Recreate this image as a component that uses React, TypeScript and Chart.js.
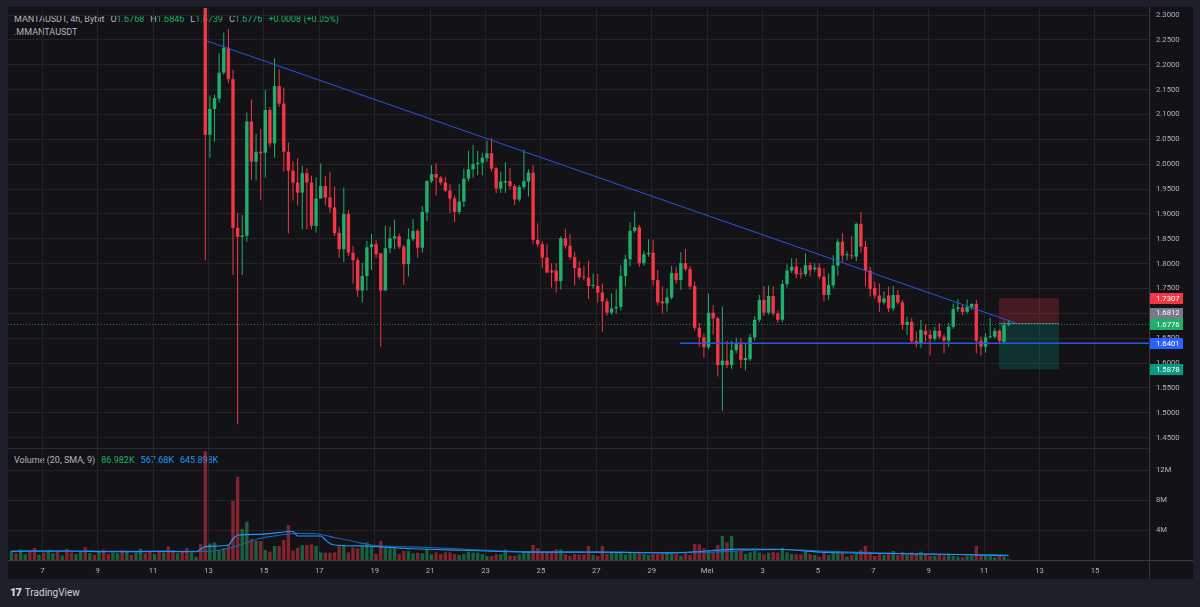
import React, { useEffect, useRef } from "react";
import { Chart, registerables } from "chart.js";
Chart.register(...registerables);

// ---------------- data ----------------
const opens = [
  2.42, 2.059, 2.111, 2.132, 2.184, 2.234, 2.171, 1.872, 1.854, 1.856,
  2.086, 2.005, 2.025, 2.023, 2.109, 2.042, 2.157, 2.122, 2.025, 1.987,
  1.963, 1.943, 1.982, 1.963, 1.876, 1.931, 1.956, 1.933, 1.913, 1.862,
  1.829, 1.9, 1.822, 1.807, 1.746, 1.775, 1.833, 1.839, 1.821, 1.746,
  1.831, 1.851, 1.855, 1.834, 1.799, 1.849, 1.866, 1.832, 1.903, 1.966,
  1.98, 1.973, 1.963, 1.947, 1.931, 1.904, 1.925, 1.971, 1.99, 2.0,
  2.003, 2.012, 2.022, 1.992, 1.951, 1.963, 1.966, 1.956, 1.929, 1.954,
  1.965, 1.983, 1.848, 1.839, 1.812, 1.786, 1.786, 1.765, 1.851, 1.836,
  1.813, 1.791, 1.774, 1.772, 1.755, 1.755, 1.742, 1.724, 1.7015, 1.71,
  1.713, 1.775, 1.809, 1.866, 1.873, 1.801, 1.819, 1.822, 1.767, 1.724,
  1.72, 1.732, 1.781, 1.767, 1.801, 1.789, 1.755, 1.671, 1.652, 1.632,
  1.7015, 1.69, 1.596, 1.605, 1.596, 1.626, 1.638, 1.606, 1.608, 1.652,
  1.687, 1.727, 1.7015, 1.735, 1.7, 1.687, 1.759, 1.786, 1.794, 1.78,
  1.779, 1.797, 1.789, 1.792, 1.774, 1.737, 1.756, 1.796, 1.844, 1.817,
  1.817, 1.814, 1.88, 1.834, 1.786, 1.751, 1.736, 1.722, 1.736, 1.71,
  1.737, 1.722, 1.677, 1.683, 1.644, 1.64, 1.665, 1.657, 1.649, 1.665,
  1.653, 1.645, 1.673, 1.709, 1.712, 1.703, 1.712, 1.719, 1.645, 1.633,
  1.652, 1.653, 1.665, 1.643, 1.6768,
];
const highs = [
  2.47, 2.138, 2.14, 2.223, 2.265, 2.272, 2.19, 1.902, 1.898, 2.104,
  2.13, 2.061, 2.071, 2.149, 2.115, 2.213, 2.191, 2.154, 2.044, 2.006,
  2.012, 1.997, 1.992, 1.977, 1.973, 2.002, 1.977, 1.985, 1.955, 1.874,
  1.953, 1.908, 1.835, 1.812, 1.802, 1.846, 1.86, 1.847, 1.821, 1.876,
  1.874, 1.889, 1.86, 1.838, 1.871, 1.89, 1.87, 1.916, 1.968, 1.998,
  2.002, 1.977, 1.975, 1.96, 1.937, 1.96, 1.991, 2.027, 2.039, 2.027,
  2.023, 2.047, 2.052, 1.995, 1.985, 2.004, 1.992, 1.96, 1.958, 2.029,
  1.99, 1.998, 1.881, 1.845, 1.839, 1.801, 1.801, 1.855, 1.87, 1.859,
  1.824, 1.805, 1.795, 1.806, 1.78, 1.779, 1.76, 1.73, 1.74, 1.748,
  1.797, 1.818, 1.883, 1.905, 1.878, 1.826, 1.849, 1.848, 1.787, 1.754,
  1.75, 1.796, 1.794, 1.823, 1.83, 1.795, 1.764, 1.681, 1.66, 1.74,
  1.717, 1.693, 1.714, 1.645, 1.645, 1.651, 1.65, 1.64, 1.659, 1.694,
  1.737, 1.755, 1.756, 1.754, 1.706, 1.767, 1.799, 1.811, 1.811, 1.792,
  1.821, 1.803, 1.801, 1.801, 1.791, 1.78, 1.817, 1.849, 1.861, 1.825,
  1.856, 1.883, 1.904, 1.846, 1.794, 1.764, 1.76, 1.744, 1.754, 1.755,
  1.747, 1.727, 1.693, 1.69, 1.663, 1.687, 1.677, 1.667, 1.673, 1.68,
  1.658, 1.681, 1.72, 1.729, 1.719, 1.728, 1.721, 1.727, 1.654, 1.66,
  1.69, 1.67, 1.668, 1.683, 1.6846,
];
const lows = [
  1.807, 2.013, 2.045, 2.124, 2.18, 2.163, 1.777, 1.477, 1.777, 1.844,
  1.968, 1.967, 1.928, 1.973, 2.035, 2.013, 2.115, 1.985, 1.861, 1.927,
  1.917, 1.869, 1.869, 1.869, 1.862, 1.931, 1.917, 1.902, 1.855, 1.812,
  1.803, 1.815, 1.76, 1.733, 1.722, 1.746, 1.787, 1.811, 1.633, 1.746,
  1.821, 1.829, 1.83, 1.757, 1.774, 1.845, 1.812, 1.822, 1.886, 1.962,
  1.937, 1.958, 1.944, 1.902, 1.884, 1.899, 1.914, 1.965, 1.973, 1.978,
  1.978, 2.005, 1.985, 1.942, 1.942, 1.942, 1.949, 1.918, 1.925, 1.95,
  1.935, 1.839, 1.833, 1.791, 1.781, 1.752, 1.742, 1.748, 1.83, 1.808,
  1.756, 1.768, 1.766, 1.729, 1.75, 1.722, 1.663, 1.695, 1.698, 1.7,
  1.706, 1.754, 1.795, 1.862, 1.794, 1.796, 1.814, 1.756, 1.716, 1.7,
  1.704, 1.728, 1.76, 1.747, 1.785, 1.748, 1.665, 1.633, 1.611, 1.628,
  1.657, 1.573, 1.504, 1.59, 1.588, 1.62, 1.59, 1.585, 1.604, 1.645,
  1.682, 1.695, 1.698, 1.695, 1.681, 1.683, 1.752, 1.781, 1.771, 1.77,
  1.774, 1.774, 1.784, 1.769, 1.724, 1.727, 1.75, 1.776, 1.804, 1.807,
  1.809, 1.805, 1.822, 1.754, 1.734, 1.73, 1.703, 1.718, 1.703, 1.705,
  1.718, 1.667, 1.657, 1.64, 1.632, 1.63, 1.643, 1.616, 1.645, 1.648,
  1.62, 1.633, 1.669, 1.703, 1.697, 1.7, 1.707, 1.62, 1.615, 1.621,
  1.65, 1.65, 1.64, 1.638, 1.6739,
];
const closes = [
  2.059, 2.111, 2.133, 2.184, 2.234, 2.171, 1.872, 1.854, 1.857, 2.086,
  2.005, 2.025, 2.022, 2.109, 2.042, 2.157, 2.122, 2.025, 1.987, 1.963,
  1.943, 1.982, 1.963, 1.876, 1.931, 1.956, 1.933, 1.913, 1.861, 1.829,
  1.9, 1.822, 1.807, 1.746, 1.775, 1.833, 1.839, 1.819, 1.746, 1.831,
  1.851, 1.855, 1.834, 1.799, 1.849, 1.866, 1.832, 1.904, 1.966, 1.98,
  1.973, 1.963, 1.947, 1.931, 1.904, 1.925, 1.971, 1.99, 2.0, 2.003,
  2.013, 2.022, 1.991, 1.951, 1.965, 1.966, 1.956, 1.929, 1.954, 1.966,
  1.983, 1.848, 1.839, 1.812, 1.782, 1.782, 1.765, 1.851, 1.836, 1.813,
  1.791, 1.773, 1.772, 1.755, 1.757, 1.742, 1.724, 1.7015, 1.71, 1.713,
  1.775, 1.809, 1.866, 1.873, 1.801, 1.819, 1.822, 1.767, 1.722, 1.72,
  1.732, 1.781, 1.767, 1.801, 1.789, 1.754, 1.671, 1.652, 1.632, 1.7015,
  1.69, 1.596, 1.605, 1.596, 1.626, 1.638, 1.606, 1.61, 1.652, 1.687,
  1.727, 1.7015, 1.735, 1.7, 1.687, 1.759, 1.786, 1.794, 1.779, 1.779,
  1.797, 1.787, 1.792, 1.774, 1.737, 1.757, 1.796, 1.844, 1.816, 1.819,
  1.815, 1.88, 1.834, 1.786, 1.749, 1.736, 1.722, 1.73, 1.71, 1.737,
  1.722, 1.677, 1.683, 1.644, 1.64, 1.667, 1.657, 1.649, 1.665, 1.653,
  1.645, 1.673, 1.709, 1.712, 1.703, 1.713, 1.719, 1.645, 1.633, 1.652,
  1.653, 1.665, 1.645, 1.677, 1.6776,
];
// volume in millions, one per candle above
const volumes = [
  14.5, 2.2, 2.36, 1.33, 1.56, 2.0, 7.87, 11.1, 4.13, 5.1,
  2.8, 2.53, 2.53, 1.33, 1.1, 1.87, 1.87, 2.67, 4.67, 1.24,
  1.64, 2.0, 2.0, 2.1, 1.87, 1.02, 0.98, 0.98, 1.02, 2.0,
  2.0, 1.02, 1.69, 1.56, 1.91, 2.36, 1.78, 0.8, 2.53, 1.64,
  1.56, 1.56, 0.8, 1.2, 1.2, 0.89, 0.98, 0.89, 1.47, 0.76,
  1.02, 0.8, 1.02, 1.02, 0.8, 0.67, 0.8, 1.1, 0.98, 0.98,
  0.8, 0.53, 0.53, 0.76, 0.76, 1.42, 0.58, 0.58, 0.76, 1.1,
  1.02, 2.0, 1.56, 1.2, 1.1, 1.2, 1.42, 1.42, 0.8, 0.53,
  0.8, 0.76, 0.76, 1.87, 0.67, 0.53, 1.87, 0.8, 1.02, 1.02,
  1.1, 0.76, 1.02, 1.02, 1.02, 0.8, 0.67, 0.8, 0.8, 0.98,
  1.02, 1.1, 0.8, 0.58, 0.89, 0.67, 2.13, 2.09, 1.56, 1.33,
  0.98, 2.0, 3.2, 2.36, 3.2, 1.2, 1.24, 0.8, 1.02, 1.2,
  0.98, 0.76, 0.98, 1.1, 0.98, 1.64, 1.02, 0.8, 0.76, 0.76,
  1.2, 0.8, 0.67, 0.44, 0.98, 0.67, 1.2, 1.2, 0.89, 0.44,
  0.67, 0.8, 1.33, 1.87, 1.1, 0.53, 0.8, 0.67, 0.89, 1.2,
  0.67, 1.1, 0.67, 1.02, 0.76, 1.1, 0.8, 0.53, 0.53, 0.67,
  0.58, 0.8, 0.53, 0.44, 0.36, 0.53, 0.58, 1.87, 0.8, 0.67,
  0.58, 0.36, 0.67, 0.44, 0.087,
];
// the 42 candles before the first visible one (their prices are above the visible range)
const preVolumes = [
  1.2, 0.9, 1.4, 0.8, 1.1, 1.6, 0.7, 1.0, 1.3, 0.9,
  1.2, 0.6, 1.5, 1.0, 0.8, 1.1, 1.7, 0.9, 0.7, 1.2,
  1.4, 0.8, 1.0, 0.9, 1.3, 1.1, 0.7, 1.0, 1.5, 0.9,
  1.2, 0.8, 1.1, 1.0, 1.8, 1.3, 0.9, 1.2, 1.6, 1.0,
  0.44, 2.1,
];
const preVolumeUp = [
  true, false, true, true, false, false, true, false, true, true,
  false, true, false, false, true, true, false, true, false, true,
  false, false, true, true, false, true, false, true, true, false,
  false, true, false, true, false, false, true, false, false, true,
  true, false,
];
// Volume MA(20) and its SMA(9) smoothing at these candle indices
const maIndex = [-42, -30, -20, -10, -2, 0, 5, 6, 7, 12, 19, 20, 25, 26, 27, 28, 35, 45, 56, 70, 85, 100, 106, 112, 115, 125, 135, 145, 155, 165, 174];
const maValues = [1.15, 1.2, 1.1, 1.15, 1.1, 1.78, 2.0, 2.8, 3.3, 3.42, 3.8, 3.2, 3.2, 2.7, 2.2, 2.0, 1.85, 1.5, 1.3, 1.05, 1.05, 0.95, 1.1, 1.35, 1.45, 1.4, 1.0, 0.9, 0.8, 0.7, 0.57];
const smoothIndex = [-42, -10, 0, 4, 8, 12, 16, 20, 24, 28, 32, 36, 45, 56, 70, 85, 100, 110, 118, 125, 135, 145, 155, 165, 174];
const smoothValues = [1.2, 1.15, 1.15, 1.4, 2.1, 2.9, 3.3, 3.55, 3.5, 3.0, 2.5, 2.0, 1.75, 1.45, 1.1, 1.05, 0.97, 1.05, 1.3, 1.4, 1.15, 0.95, 0.82, 0.72, 0.646];

const priceTicks = [2.3, 2.25, 2.2, 2.15, 2.1, 2.05, 2.0, 1.95, 1.9, 1.85, 1.8, 1.75, 1.7, 1.65, 1.6, 1.55, 1.5, 1.45];
const volumeTicks = [4, 8, 12];
const dateTickDays = [-6, -4, -2, 0, 2, 4, 6, 8, 10, 12, 14, 16, 18, 20, 22, 24, 26, 28, 30, 32];
const dateTickLabels = ["7", "9", "11", "13", "15", "17", "19", "21", "23", "25", "27", "29", "Mei", "3", "5", "7", "9", "11", "13", "15"];

// drawings (candle index, price)
const trendIdx = [0.37, 175.8];
const trendPrice = [2.2477, 1.6797];
const supportIdx = [102.8, 205];
const supportPrice = [1.6401, 1.6401];
const lastPrice = 1.6776;
const positionIdx = [171.9, 184.9];
const stopPrice = 1.7307;
const entryPrice = 1.6812;
const targetPrice = 1.5878;
const axisMarkValues = [1.7307, 1.6812, 1.6776, 1.6401, 1.5878];

const headerOHLC = [["O", "1.6768"], ["H", "1.6846"], ["L", "1.6739"], ["C", "1.6776"]];
const headerChange = "+0.0008 (+0.05%)";
const volumeLegendValues = ["86.982K", "567.68K", "645.898K"];

// ---------------- styles ----------------
const UP = "#1fae6b";
const DOWN = "#f23645";
const UP_VOL = "rgba(31,174,107,0.5)";
const DOWN_VOL = "rgba(242,54,69,0.5)";
const GRID = "#232329";
const TEXT = "#b2b5be";
const LINE_BLUE = "#2b56e0";
const FONT = "Roboto, 'Noto Sans', sans-serif";
const AXIS_W = 44;
const X_MIN = -42.73;
const X_MAX = 204.4;
const APR13_POS = 0.7;
const CANDLES_PER_DAY = 6;
const P_MIN = 1.4293;
const P_MAX = 2.3141;
const V_MAX = 14.8;
const axisMarkColors = ["#f23645", "#787b86", UP, "#2962ff", "#089981"];
const ANCHOR_MARK = 2;

function dateTickValues() {
  return dateTickDays.map((d) => ({ value: APR13_POS + d * CANDLES_PER_DAY }));
}

export default function App() {
  const priceRef = useRef<HTMLCanvasElement>(null);
  const volRef = useRef<HTMLCanvasElement>(null);

  useEffect(() => {
    const idx = opens.map((_, i) => i);
    const up = idx.map((i) => closes[i] >= opens[i]);
    const bodies = idx.map((i) => ({ x: i, y: [Math.min(opens[i], closes[i]), Math.max(opens[i], closes[i])] }));
    const wicks = idx.map((i) => ({ x: i, y: [lows[i], highs[i]] }));
    const candleColors = up.map((u) => (u ? UP : DOWN));

    const overlayPlugin: any = {
      id: "overlays",
      beforeDatasetsDraw(chart: any) {
        const { ctx, chartArea, scales } = chart;
        const x = scales.x, y = scales.y;
        ctx.save();
        ctx.beginPath();
        ctx.rect(chartArea.left, chartArea.top, chartArea.right - chartArea.left, chartArea.bottom - chartArea.top);
        ctx.clip();
        const x0 = x.getPixelForValue(positionIdx[0]);
        const x1 = x.getPixelForValue(positionIdx[1]);
        const ys = y.getPixelForValue(stopPrice);
        const ye = y.getPixelForValue(entryPrice);
        const yt = y.getPixelForValue(targetPrice);
        ctx.fillStyle = "rgba(242,54,69,0.24)";
        ctx.fillRect(x0, ys, x1 - x0, ye - ys);
        ctx.fillStyle = "rgba(8,153,129,0.24)";
        ctx.fillRect(x0, ye, x1 - x0, yt - ye);
        ctx.fillStyle = "rgba(180,180,190,0.45)";
        ctx.fillRect(x0, Math.round(ye), x1 - x0, 1);
        ctx.restore();
      },
      afterDraw(chart: any) {
        const { ctx, chartArea, scales } = chart;
        const y = scales.y;
        const h = 11;
        const ys = axisMarkValues.map((v) => y.getPixelForValue(v));
        const anchorY = ys[ANCHOR_MARK];
        const placed = ys.map((py, i) => {
          if (i === ANCHOR_MARK) return py;
          if (Math.abs(py - anchorY) < h + 1) return py < anchorY ? anchorY - (h + 0.5) : anchorY + (h + 0.5);
          return py;
        });
        ctx.save();
        ctx.font = `7.7px ${FONT}`;
        ctx.textBaseline = "middle";
        ctx.textAlign = "left";
        axisMarkValues.forEach((v, i) => {
          const cy = placed[i];
          ctx.fillStyle = axisMarkColors[i];
          ctx.fillRect(chartArea.right + 1, Math.round(cy - h / 2), 33, h);
          ctx.fillStyle = "#ffffff";
          ctx.fillText(v.toFixed(4), chartArea.right + 7, cy + 0.5);
        });
        ctx.restore();
      },
    };

    const priceChart = new Chart(priceRef.current as HTMLCanvasElement, {
      type: "bar",
      data: {
        datasets: [
          {
            type: "bar",
            data: bodies as any,
            backgroundColor: candleColors,
            barThickness: 3.4,
            minBarLength: 1,
            grouped: false,
            borderWidth: 0,
            inflateAmount: 0,
            order: 1,
          } as any,
          {
            type: "bar",
            data: wicks as any,
            backgroundColor: candleColors,
            barThickness: 1,
            grouped: false,
            borderWidth: 0,
            inflateAmount: 0,
            order: 2,
          } as any,
          {
            type: "line",
            data: trendIdx.map((v, i) => ({ x: v, y: trendPrice[i] })),
            borderColor: LINE_BLUE,
            borderWidth: 1,
            pointRadius: 0,
            order: 0,
          } as any,
          {
            type: "line",
            data: supportIdx.map((v, i) => ({ x: v, y: supportPrice[i] })),
            borderColor: LINE_BLUE,
            borderWidth: 1.5,
            pointRadius: 0,
            order: 0,
          } as any,
          {
            type: "line",
            data: [{ x: X_MIN, y: lastPrice }, { x: X_MAX, y: lastPrice }],
            borderColor: "rgba(31,174,107,0.75)",
            borderWidth: 1,
            borderDash: [1, 2],
            pointRadius: 0,
            order: 3,
          } as any,
        ],
      },
      options: {
        animation: false,
        responsive: false,
        devicePixelRatio: 1,
        events: [],
        layout: { padding: 0 },
        plugins: { legend: { display: false }, tooltip: { enabled: false } },
        scales: {
          x: {
            type: "linear",
            min: X_MIN,
            max: X_MAX,
            offset: false,
            grid: { color: GRID, drawTicks: false, offset: false, lineWidth: 1 },
            border: { display: false },
            ticks: { display: false },
            afterBuildTicks: (s: any) => { s.ticks = dateTickValues(); },
            afterFit: (s: any) => { s.height = 0; s.paddingLeft = 0; s.paddingRight = 0; },
          },
          y: {
            type: "linear",
            position: "right",
            min: P_MIN,
            max: P_MAX,
            grid: { color: GRID, drawTicks: false },
            border: { display: false },
            ticks: {
              color: TEXT,
              font: { size: 7.7, family: FONT },
              padding: 7,
              callback: (v: any) => Number(v).toFixed(4),
            },
            afterBuildTicks: (s: any) => { s.ticks = priceTicks.map((v) => ({ value: v })); },
            afterFit: (s: any) => { s.width = AXIS_W; s.paddingTop = 0; s.paddingBottom = 0; },
          },
        },
      } as any,
      plugins: [overlayPlugin],
    });

    const volIdx = [...preVolumes.map((_, j) => j - preVolumes.length), ...idx];
    const volVals = [...preVolumes, ...volumes];
    const volUp = [...preVolumeUp, ...up];

    const volChart = new Chart(volRef.current as HTMLCanvasElement, {
      type: "bar",
      data: {
        datasets: [
          {
            type: "line",
            data: maIndex.map((v, i) => ({ x: v, y: maValues[i] })),
            borderColor: "#2196f3",
            borderWidth: 1.2,
            pointRadius: 0,
            cubicInterpolationMode: "monotone",
            order: 0,
          } as any,
          {
            type: "line",
            data: smoothIndex.map((v, i) => ({ x: v, y: smoothValues[i] })),
            borderColor: "#1d5fa8",
            borderWidth: 1.2,
            pointRadius: 0,
            cubicInterpolationMode: "monotone",
            order: 1,
          } as any,
          {
            type: "bar",
            data: volIdx.map((v, i) => ({ x: v, y: volVals[i] })),
            backgroundColor: volUp.map((u) => (u ? UP_VOL : DOWN_VOL)),
            barThickness: 3.4,
            grouped: false,
            borderWidth: 0,
            inflateAmount: 0,
            order: 2,
          } as any,
        ],
      },
      options: {
        animation: false,
        responsive: false,
        devicePixelRatio: 1,
        events: [],
        layout: { padding: 0 },
        plugins: { legend: { display: false }, tooltip: { enabled: false } },
        scales: {
          x: {
            type: "linear",
            min: X_MIN,
            max: X_MAX,
            offset: false,
            grid: { color: GRID, drawTicks: false, offset: false },
            border: { display: false },
            ticks: {
              color: TEXT,
              font: { size: 7.7, family: FONT },
              padding: 6,
              maxRotation: 0,
              autoSkip: false,
              callback: (_v: any, i: number) => dateTickLabels[i],
            },
            afterBuildTicks: (s: any) => { s.ticks = dateTickValues(); },
            afterFit: (s: any) => { s.height = 19; s.paddingLeft = 0; s.paddingRight = 0; },
          },
          y: {
            type: "linear",
            position: "right",
            min: 0,
            max: V_MAX,
            grid: { color: GRID, drawTicks: false },
            border: { display: false },
            ticks: {
              color: TEXT,
              font: { size: 7.7, family: FONT },
              padding: 7,
              callback: (v: any) => `${v}M`,
            },
            afterBuildTicks: (s: any) => { s.ticks = volumeTicks.map((v) => ({ value: v })); },
            afterFit: (s: any) => { s.width = AXIS_W; s.paddingTop = 0; s.paddingBottom = 0; },
          },
        },
      } as any,
    });

    return () => {
      priceChart.destroy();
      volChart.destroy();
    };
  }, []);

  const abs = (l: number, t: number, w: number, h: number, extra: any = {}) => ({
    position: "absolute" as const, left: l, top: t, width: w, height: h, ...extra,
  });

  return (
    <div style={{ position: "fixed", left: 0, top: 0, width: 1200, height: 607, background: "#1e2029", overflow: "hidden", fontFamily: FONT }}>
      <div style={abs(8, 7, 1185, 572, { background: "#121217" })} />
      {/* price legend (behind the canvas) */}
      <div style={{ position: "absolute", left: 14, top: 13, fontSize: 9, lineHeight: "12px", color: TEXT, whiteSpace: "nowrap" }}>
        <span>MANTAUSDT, 4h, Bybit</span>
        {headerOHLC.map(([k, v]) => (
          <span key={k} style={{ marginLeft: 6 }}>
            {k}<span style={{ color: UP }}>{v}</span>
          </span>
        ))}
        <span style={{ marginLeft: 6, color: UP }}>{headerChange}</span>
      </div>
      <div style={{ position: "absolute", left: 14, top: 26, fontSize: 9, lineHeight: "12px", color: TEXT, whiteSpace: "nowrap" }}>
        .MMANTAUSDT
      </div>
      <div style={{ position: "absolute", left: 14, top: 454, fontSize: 9, lineHeight: "12px", color: TEXT, whiteSpace: "nowrap" }}>
        <span>Volume (20, SMA, 9)</span>
        <span style={{ marginLeft: 6, color: UP }}>{volumeLegendValues[0]}</span>
        <span style={{ marginLeft: 6, color: "#2196f3" }}>{volumeLegendValues[1]}</span>
        <span style={{ marginLeft: 6, color: "#2196f3" }}>{volumeLegendValues[2]}</span>
      </div>
      <canvas ref={priceRef} width={1185} height={440} style={abs(8, 8, 1185, 440)} />
      <canvas ref={volRef} width={1185} height={130} style={abs(8, 449, 1185, 130)} />
      {/* pane separators and axis lines */}
      <div style={abs(8, 448, 1141, 1, { background: "#2a2a31" })} />
      <div style={abs(8, 560, 1185, 1, { background: "#3a3a41" })} />
      <div style={abs(1149, 7, 1, 572, { background: "#3a3a41" })} />
      {/* footer logo */}
      <div style={{ position: "absolute", left: 10, top: 586, color: "#d1d4dc", fontSize: 10, lineHeight: "14px", whiteSpace: "nowrap" }}>
        <span style={{ fontWeight: 900, fontSize: 11, letterSpacing: -1, marginRight: 4 }}>17</span>
        <span>TradingView</span>
      </div>
    </div>
  );
}
